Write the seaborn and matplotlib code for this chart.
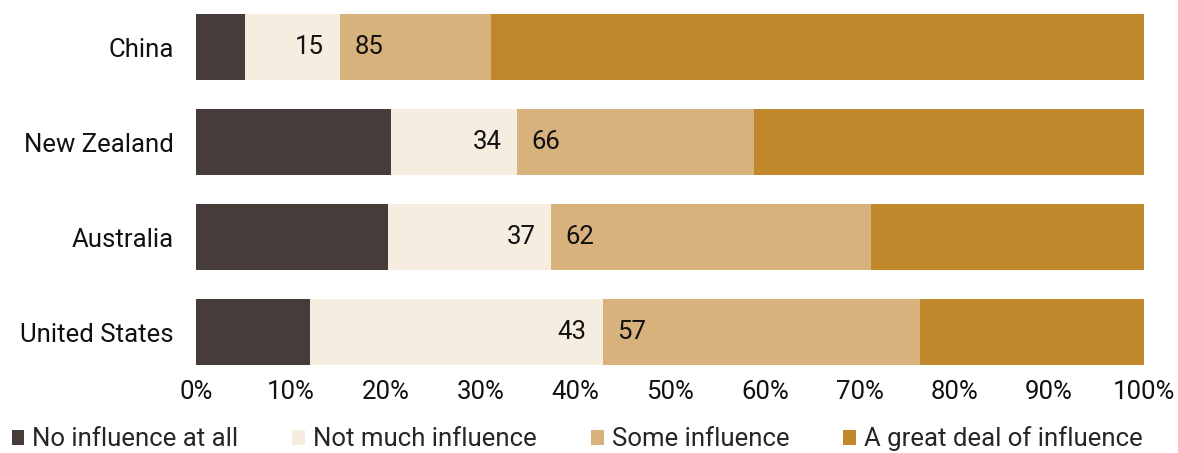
import numpy as np
import pandas as pd
import seaborn as sns
import matplotlib.pyplot as plt
from matplotlib.patches import Patch

countries = ["China", "New Zealand", "Australia", "United States"]
no_influence = [5.2, 20.6, 20.3, 12.0]
not_much = [10.0, 13.3, 17.2, 30.9]
some = [15.9, 25.0, 33.7, 33.5]
great_deal = [68.9, 41.1, 28.8, 23.6]
left_labels = [15, 34, 37, 43]
right_labels = [85, 66, 62, 57]

series = ["No influence at all", "Not much influence", "Some influence", "A great deal of influence"]
colors = ["#463d3b", "#f5eee0", "#d8b27c", "#c0872b"]

sns.set_style("white")
plt.rcParams['font.family'] = ['Roboto', 'DejaVu Sans']
FS = 18.5

df = pd.DataFrame({"country": countries, "s0": no_influence, "s1": not_much,
                   "s2": some, "s3": great_deal})
cum = df[["s0", "s1", "s2", "s3"]].cumsum(axis=1)

fig = plt.figure(figsize=(11.78, 4.53), dpi=100)
ax = fig.add_axes([0.1664, 0.1832, 0.8047, 0.7947])

# stacked bars: draw the running totals from the longest down
for i in range(3, -1, -1):
    sns.barplot(x=cum[f"s{i}"], y=df["country"], color=colors[i], width=0.695,
                orient="h", ax=ax, linewidth=0, saturation=1)

for k in range(len(countries)):
    ax.text(cum.loc[k, "s1"] - 1.7, k, str(left_labels[k]), ha="right", va="center",
            fontsize=FS, color="#111111")
    ax.text(cum.loc[k, "s1"] + 1.5, k, str(right_labels[k]), ha="left", va="center",
            fontsize=FS, color="#111111")

ax.set_xlim(0, 100)
ax.set_ylim(3.4, -0.39)
ax.set_xticks(np.arange(0, 101, 10))
ax.set_xticklabels([f"{v}%" for v in range(0, 101, 10)])
ax.set_xlabel("")
ax.set_ylabel("")
ax.tick_params(axis="x", length=0, pad=7, labelsize=FS, labelcolor="#111111")
ax.tick_params(axis="y", length=0, pad=16, labelsize=FS, labelcolor="#111111")
sns.despine(ax=ax, left=True, bottom=True)

handles = [Patch(facecolor=c, edgecolor="none") for c in colors]
fig.legend(handles, series, loc="center left", bbox_to_anchor=(0.0, 0.031), ncol=4,
           frameon=False, fontsize=FS, handlelength=0.5, handleheight=0.5,
           handletextpad=0.31, columnspacing=2.1, borderaxespad=0, borderpad=0.45)

fig.savefig("out.png", dpi=100)
